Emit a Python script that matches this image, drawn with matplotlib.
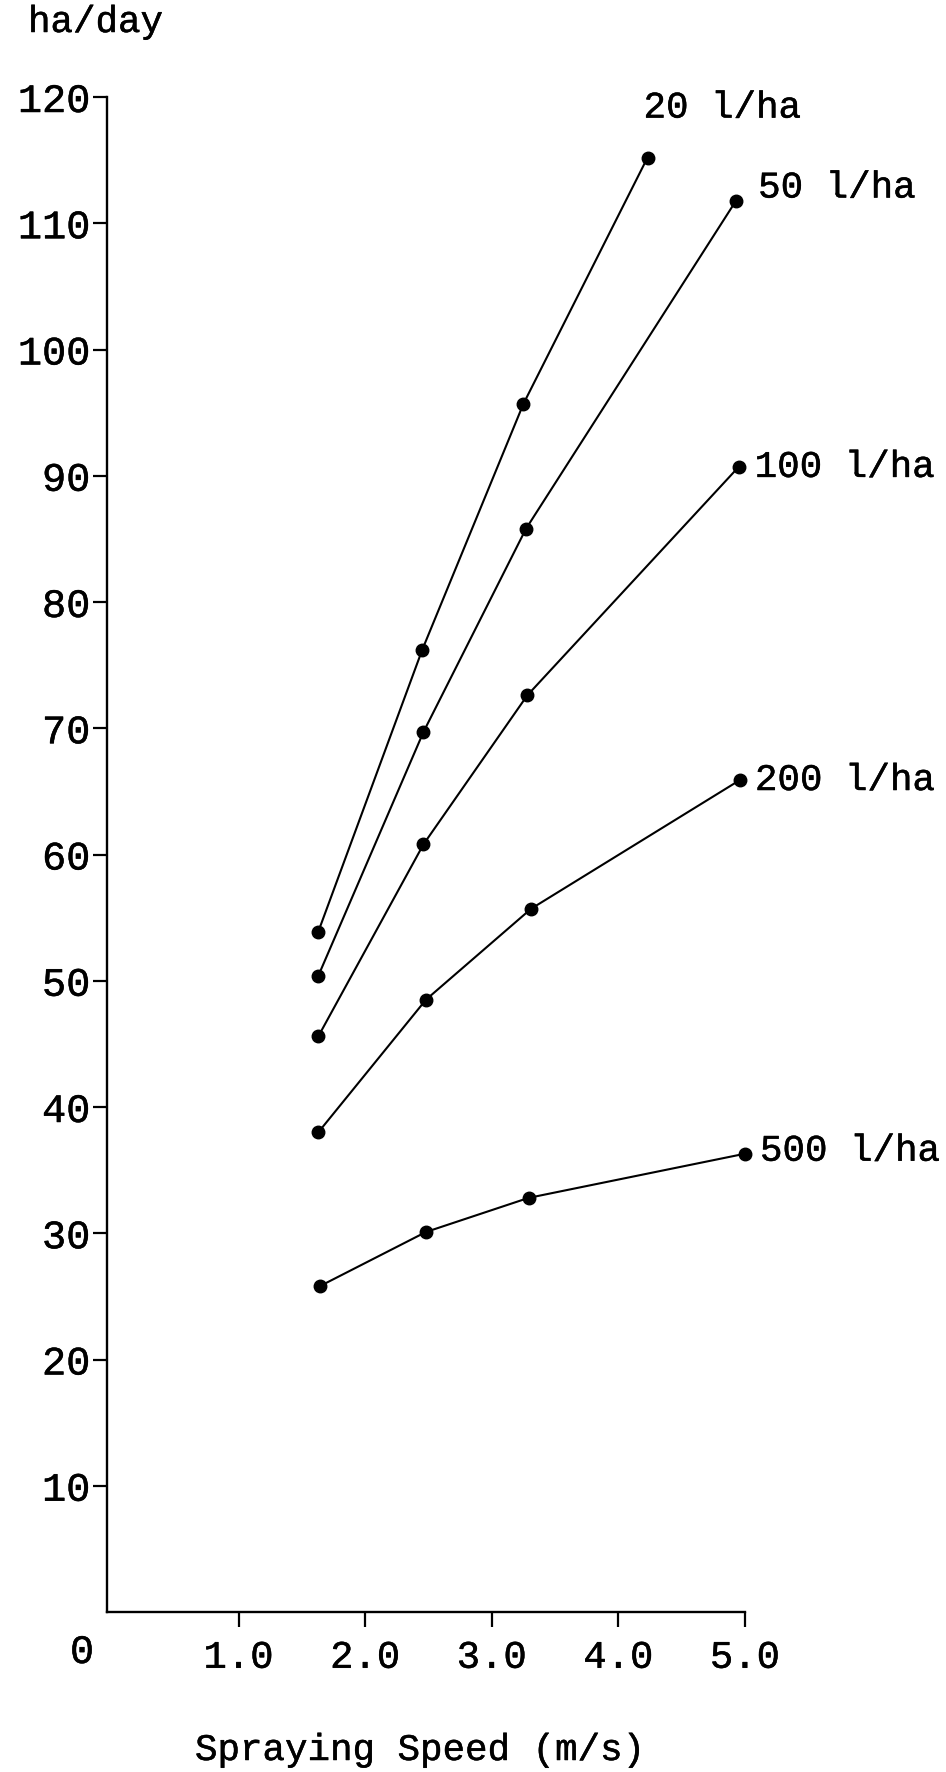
import matplotlib
matplotlib.use("Agg")
import matplotlib.pyplot as plt
import matplotlib.patheffects as pe

# Spraying speed (m/s) and work rate (ha/day) for each application volume
series_labels = ["20 l/ha", "50 l/ha", "100 l/ha", "200 l/ha", "500 l/ha"]
speed_20 = [1.63, 2.45, 3.25, 4.23]
rate_20 = [53.9, 76.2, 95.7, 115.2]
speed_50 = [1.63, 2.46, 3.27, 4.93]
rate_50 = [50.4, 69.7, 85.8, 111.8]
speed_100 = [1.63, 2.46, 3.28, 4.95]
rate_100 = [45.6, 60.8, 72.6, 90.7]
speed_200 = [1.63, 2.48, 3.31, 4.96]
rate_200 = [38.0, 48.5, 55.7, 65.9]
speed_500 = [1.64, 2.48, 3.29, 5.00]
rate_500 = [25.8, 30.1, 32.8, 36.3]

x_ticks = [1, 2, 3, 4, 5]
x_tick_labels = ["1.0", "2.0", "3.0", "4.0", "5.0"]
y_ticks = list(range(10, 121, 10))
y_tick_labels = [str(v) for v in y_ticks]

x_label = "Spraying Speed (m/s)"
y_label = "ha/day"

FONT = "Liberation Mono"
light = [pe.withStroke(linewidth=0.35, foreground="black")]

W, H = 946, 1772
fig = plt.figure(figsize=(W / 100, H / 100), dpi=100)
fig.patch.set_facecolor("white")

# x = 0 falls at 112 px, x = 5 at 745 px; the y spine sits a touch left of 0
x0_px, x5_px = 112, 745
x_min = -0.04
px_per_unit = (x5_px - x0_px) / 5.0
left = x0_px + x_min * px_per_unit
bottom, top = 1612, 97
ax = fig.add_axes([left / W, 1 - bottom / H, (x5_px - left) / W, (bottom - top) / H])
ax.set_xlim(x_min, 5)
ax.set_ylim(0, 120)

for s in ("top", "right"):
    ax.spines[s].set_visible(False)
for s in ("left", "bottom"):
    ax.spines[s].set_linewidth(1.7)
    ax.spines[s].set_color("black")

ax.set_xticks(x_ticks)
ax.set_xticklabels(x_tick_labels)
ax.set_yticks(y_ticks)
ax.set_yticklabels(y_tick_labels)
ax.tick_params(axis="y", direction="out", length=10, width=1.6, pad=2,
               labelsize=29)
ax.tick_params(axis="x", direction="out", length=11, width=1.6, pad=9,
               labelsize=28)
for lab in ax.get_xticklabels() + ax.get_yticklabels():
    lab.set_fontfamily(FONT)
    lab.set_path_effects(light)

speeds = [speed_20, speed_50, speed_100, speed_200, speed_500]
rates = [rate_20, rate_50, rate_100, rate_200, rate_500]
label_offsets = [(-4, 50), (22, 13), (16, 0), (15, 0), (15, 3)]

for xs, ys, name, off in zip(speeds, rates, series_labels, label_offsets):
    ax.plot(xs, ys, color="black", linewidth=1.5, marker="o",
            markersize=9, markerfacecolor="black", markeredgecolor="black",
            clip_on=False)
    ax.annotate(name, xy=(xs[-1], ys[-1]), xytext=off,
                textcoords="offset pixels", ha="left", va="center",
                fontsize=27, fontfamily=FONT, path_effects=light,
                annotation_clip=False)

# origin label sits below-left of the axes corner
ax.annotate("0", xy=(0, 0), xytext=(-30, -40), textcoords="offset pixels",
            ha="center", va="center", fontsize=29, fontfamily=FONT,
            path_effects=light, annotation_clip=False)

fig.text(28 / W, 1 - 32 / H, y_label, ha="left", va="baseline",
         fontsize=27, fontfamily=FONT, path_effects=light)
fig.text(420 / W, 1 - 1760 / H, x_label, ha="center", va="baseline",
         fontsize=27, fontfamily=FONT, path_effects=light)

fig.savefig("out.png", dpi=100, facecolor="white")
